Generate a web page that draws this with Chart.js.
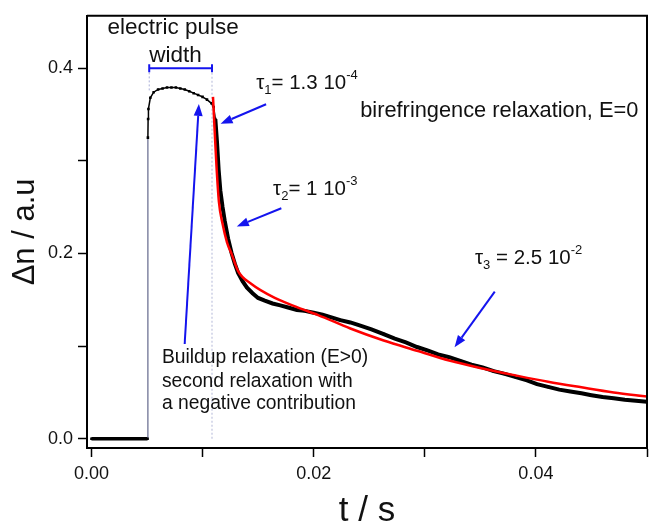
<!DOCTYPE html>
<html>
<head>
<meta charset="utf-8">
<script src="https://cdn.jsdelivr.net/npm/chart.js@4.4.1/dist/chart.umd.min.js"></script>
<style>
  html, body { margin: 0; padding: 0; background: #fff; }
  #wrap { width: 653px; height: 526px; }
</style>
</head>
<body>
<div id="wrap"><canvas id="relaxChart" width="653" height="526"></canvas></div>
<script>
// measured birefringence signal (t in s, delta n in a.u.)
const timeData = [0, 0.0004, 0.0008, 0.0012, 0.0016, 0.002, 0.0024, 0.0028, 0.0032, 0.0036, 0.004, 0.0044, 0.0048, 0.00505,
  0.00508, 0.0051, 0.00513, 0.0053, 0.0056, 0.006, 0.0064, 0.0068, 0.0072, 0.0076, 0.008, 0.0084, 0.0088, 0.0092, 0.0096, 0.01, 0.0104, 0.0108, 0.011,
  0.01115, 0.0113, 0.01145, 0.0116, 0.0118, 0.012, 0.0123, 0.0126, 0.0129, 0.0132, 0.0136, 0.014, 0.0145, 0.015, 0.0156, 0.0163, 0.017, 0.0177,
  0.0185, 0.0192, 0.02, 0.0208, 0.0216, 0.0224, 0.0233, 0.0242, 0.0252, 0.0263, 0.0273, 0.0283, 0.0293, 0.0303, 0.0312, 0.0322, 0.0332, 0.0342,
  0.0352, 0.0362, 0.0372, 0.0382, 0.0392, 0.0401, 0.0411, 0.0421, 0.0431, 0.0441, 0.045, 0.046, 0.047, 0.048, 0.049, 0.05];
const signalData = [0, 0, 0, 0, 0, 0, 0, 0, 0, 0, 0, 0, 0, 0,
  0.325, 0.345, 0.356, 0.368, 0.374, 0.377, 0.378, 0.379, 0.379, 0.379, 0.378, 0.377, 0.375, 0.373, 0.371, 0.369, 0.366, 0.362, 0.358,
  0.345, 0.32, 0.29, 0.268, 0.25, 0.235, 0.216, 0.201, 0.189, 0.179, 0.170, 0.163, 0.157, 0.152, 0.149, 0.146, 0.144, 0.1416,
  0.139, 0.138, 0.136, 0.134, 0.131, 0.128, 0.1255, 0.122, 0.118, 0.113, 0.108, 0.104, 0.099, 0.095, 0.091, 0.088, 0.084, 0.080,
  0.077, 0.073, 0.070, 0.0665, 0.063, 0.059, 0.056, 0.053, 0.051, 0.049, 0.047, 0.045, 0.0437, 0.042, 0.041, 0.040];

// three-exponential fit
const fitTime = [0.01094, 0.0111, 0.01125, 0.01147, 0.0118, 0.0122, 0.01263, 0.0132, 0.0144, 0.0165, 0.0186, 0.0204, 0.0233, 0.0263,
  0.0293, 0.0322, 0.0352, 0.0382, 0.0411, 0.0441, 0.047, 0.05];
const fitSignal = [0.369, 0.33, 0.295, 0.256, 0.232, 0.212, 0.199, 0.181, 0.167, 0.152, 0.1416, 0.1335, 0.119, 0.106,
  0.095, 0.0844, 0.0758, 0.0683, 0.0615, 0.0555, 0.050, 0.0455];

// electric pulse: start / end time, marked at 0.4
const pulseTime = [0.0052, 0.01085];
const pulseLevel = 0.4;

const xTickValues = [0, 0.01, 0.02, 0.03, 0.04, 0.05];
const xTickLabels = ['0.00', '', '0.02', '', '0.04', ''];
const yTickValues = [0, 0.1, 0.2, 0.3, 0.4];
const yTickLabels = ['0.0', '', '0.2', '', '0.4'];

// arrows: [tailT, tailY, headT, headY]
const arrows = [
  [0.01572, 0.361, 0.01162, 0.340],
  [0.01709, 0.2488, 0.01308, 0.2292],
  [0.0363, 0.1587, 0.03268, 0.0987],
  [0.00839, 0.1023, 0.00967, 0.3614]
];

const FONT = '"Liberation Sans", Arial, Helvetica, sans-serif';
const BLUE = '#1414ee';

const notes = [
  {text: 'electric pulse', t: 0.00735, v: 0.4367, size: 22.5, align: 'center'},
  {text: 'width', t: 0.00757, v: 0.4061, size: 22.5, align: 'center'},
  {text: 'birefringence relaxation, E=0', t: 0.02419, v: 0.3471, size: 21.8, align: 'left'},
  {text: 'Buildup relaxation (E>0)', t: 0.00634, v: 0.0815, size: 19.3, align: 'left'},
  {text: 'second relaxation with', t: 0.00634, v: 0.0558, size: 19.3, align: 'left'},
  {text: 'a negative contribution', t: 0.00634, v: 0.0318, size: 19.3, align: 'left'}
];

const taus = [
  {sub: '1', body: '= 1.3 10', exp: '-4', t: 0.01483, v: 0.3772},
  {sub: '2', body: '= 1 10', exp: '-3', t: 0.01635, v: 0.2635},
  {sub: '3', body: ' = 2.5 10', exp: '-2', t: 0.03452, v: 0.1884}
];

const drawRich = (ctx, x, y, parts) => {
  parts.forEach(p => {
    ctx.font = p.size + 'px ' + FONT;
    ctx.fillText(p.s, x, y + (p.dy || 0));
    x += ctx.measureText(p.s).width;
  });
};

const annotationPlugin = {
  id: 'annotations',
  afterDraw(chart) {
    const {ctx, chartArea, scales: {x, y}} = chart;
    ctx.save();
    // frame top + right
    ctx.strokeStyle = '#000';
    ctx.lineWidth = 2;
    ctx.beginPath();
    ctx.moveTo(chartArea.left, chartArea.top);
    ctx.lineTo(chartArea.right, chartArea.top);
    ctx.lineTo(chartArea.right, chartArea.bottom);
    ctx.stroke();

    // arrows
    ctx.strokeStyle = BLUE;
    ctx.fillStyle = BLUE;
    ctx.lineWidth = 2;
    arrows.forEach(a => {
      const x0 = x.getPixelForValue(a[0]), y0 = y.getPixelForValue(a[1]);
      const x1 = x.getPixelForValue(a[2]), y1 = y.getPixelForValue(a[3]);
      const ang = Math.atan2(y1 - y0, x1 - x0);
      const len = 12, hw = 4.5;
      const bx = x1 - len * Math.cos(ang), by = y1 - len * Math.sin(ang);
      ctx.beginPath();
      ctx.moveTo(x0, y0);
      ctx.lineTo(bx, by);
      ctx.stroke();
      ctx.beginPath();
      ctx.moveTo(x1, y1);
      ctx.lineTo(bx + hw * Math.sin(ang), by - hw * Math.cos(ang));
      ctx.lineTo(bx - hw * Math.sin(ang), by + hw * Math.cos(ang));
      ctx.closePath();
      ctx.fill();
    });

    // texts
    ctx.fillStyle = '#111';
    ctx.textBaseline = 'alphabetic';
    notes.forEach(n => {
      ctx.font = n.size + 'px ' + FONT;
      ctx.textAlign = n.align;
      ctx.fillText(n.text, x.getPixelForValue(n.t), y.getPixelForValue(n.v));
    });
    ctx.textAlign = 'left';
    taus.forEach(tt => {
      drawRich(ctx, x.getPixelForValue(tt.t), y.getPixelForValue(tt.v), [
        {s: '\u03C4', size: 20.5},
        {s: tt.sub, size: 13, dy: 5},
        {s: tt.body, size: 20.5},
        {s: tt.exp, size: 13, dy: -10}
      ]);
    });
    ctx.restore();
  }
};

const renderChart = () => {
  const ctx = document.getElementById('relaxChart').getContext('2d');
  const measured = timeData.map((t, i) => ({x: t, y: signalData[i]}));
  const fit = fitTime.map((t, i) => ({x: t, y: fitSignal[i]}));

  const axisCommon = {
    grid: {display: true, drawOnChartArea: false, drawTicks: true, tickLength: 9, tickColor: '#000', tickWidth: 1.5},
    border: {display: true, color: '#000', width: 2}
  };

  new Chart(ctx, {
    type: 'scatter',
    data: {
      datasets: [
        {
          label: 'fit',
          data: fit,
          showLine: true,
          borderColor: '#ff0000',
          borderWidth: 2.5,
          pointRadius: 0,
          cubicInterpolationMode: 'monotone',
          order: 0
        },
        {
          label: 'birefringence',
          data: measured,
          showLine: true,
          borderColor: '#000',
          backgroundColor: '#000',
          pointStyle: 'rect',
          pointRadius: 1.8,
          pointBorderWidth: 0,
          segment: {
            borderColor: c => Math.abs(c.p1.parsed.y - c.p0.parsed.y) > 0.1 ? '#6d7294' : '#000',
            borderWidth: c => {
              if (Math.abs(c.p1.parsed.y - c.p0.parsed.y) > 0.1) return 1.3;
              if (c.p0.parsed.x < 0.00505) return 3.5;
              if (c.p0.parsed.x < 0.0111) return 1.5;
              return 4;
            }
          },
          order: 1
        },
        {
          label: 'pulse width',
          data: pulseTime.map(t => ({x: t, y: pulseLevel})),
          showLine: true,
          borderColor: BLUE,
          backgroundColor: BLUE,
          borderWidth: 2,
          pointStyle: 'line',
          rotation: 90,
          pointRadius: 4,
          pointBorderColor: BLUE,
          pointBorderWidth: 2,
          order: 2
        },
        {
          label: 'pulse start',
          data: [{x: pulseTime[0], y: 0.376}, {x: pulseTime[0], y: pulseLevel}],
          showLine: true,
          borderColor: '#a9aed8',
          borderWidth: 1,
          borderDash: [2, 2],
          pointRadius: 0,
          order: 3
        },
        {
          label: 'pulse end',
          data: [{x: pulseTime[1], y: 0}, {x: pulseTime[1], y: pulseLevel}],
          showLine: true,
          borderColor: '#b4b8d8',
          borderWidth: 1,
          borderDash: [2, 2],
          pointRadius: 0,
          order: 3
        }
      ]
    },
    options: {
      responsive: false,
      animation: false,
      layout: {padding: {top: 13, right: 1, left: 0, bottom: 0}},
      plugins: {legend: {display: false}, tooltip: {enabled: false}},
      scales: {
        x: {
          ...axisCommon,
          type: 'linear',
          min: -0.0004,
          max: 0.05,
          afterBuildTicks: s => { s.ticks = xTickValues.map(v => ({value: v})); },
          afterFit: s => { s.height = 78; },
          ticks: {
            autoSkip: false, maxRotation: 0, padding: 6, color: '#111',
            font: {family: FONT, size: 18},
            callback: (v, i) => xTickLabels[i]
          },
          title: {display: true, text: 't / s', color: '#111', font: {family: FONT, size: 35, lineHeight: 0.85}, padding: {top: 0, bottom: 0}}
        },
        y: {
          ...axisCommon,
          type: 'linear',
          min: -0.01,
          max: 0.4565,
          afterBuildTicks: s => { s.ticks = yTickValues.map(v => ({value: v})); },
          afterFit: s => { s.width = 87; },
          ticks: {
            autoSkip: false, padding: 5, color: '#111',
            font: {family: FONT, size: 18},
            callback: (v, i) => yTickLabels[i]
          },
          title: {display: true, text: '\u0394n / a.u', color: '#111', font: {family: FONT, size: 31}, padding: {top: 7, bottom: 0}}
        }
      }
    },
    plugins: [annotationPlugin]
  });
};

window.onload = renderChart;
</script>
</body>
</html>
